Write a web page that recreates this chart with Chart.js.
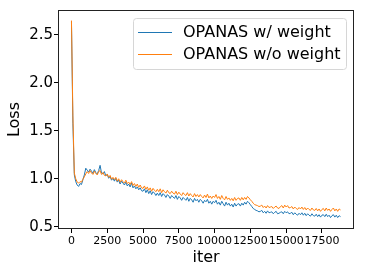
<!DOCTYPE html>
<html>
<head>
<meta charset="utf-8">
<script src="https://cdn.jsdelivr.net/npm/chart.js@4.4.1/dist/chart.umd.min.js"></script>
<style>
  html, body { margin: 0; padding: 0; background: #fff; }
  #wrap { width: 365px; height: 274px; }
</style>
</head>
<body>
<div id="wrap"><canvas id="lossChart" width="365" height="274"></canvas></div>
<script>
// training iterations (x values), one sample every 100 iters
const iters = [
  0, 100, 200, 300, 400, 500, 600, 700, 800, 900,
  1000, 1100, 1200, 1300, 1400, 1500, 1600, 1700, 1800, 1900,
  2000, 2100, 2200, 2300, 2400, 2500, 2600, 2700, 2800, 2900,
  3000, 3100, 3200, 3300, 3400, 3500, 3600, 3700, 3800, 3900,
  4000, 4100, 4200, 4300, 4400, 4500, 4600, 4700, 4800, 4900,
  5000, 5100, 5200, 5300, 5400, 5500, 5600, 5700, 5800, 5900,
  6000, 6100, 6200, 6300, 6400, 6500, 6600, 6700, 6800, 6900,
  7000, 7100, 7200, 7300, 7400, 7500, 7600, 7700, 7800, 7900,
  8000, 8100, 8200, 8300, 8400, 8500, 8600, 8700, 8800, 8900,
  9000, 9100, 9200, 9300, 9400, 9500, 9600, 9700, 9800, 9900,
  10000, 10100, 10200, 10300, 10400, 10500, 10600, 10700, 10800, 10900,
  11000, 11100, 11200, 11300, 11400, 11500, 11600, 11700, 11800, 11900,
  12000, 12100, 12200, 12300, 12400, 12500, 12600, 12700, 12800, 12900,
  13000, 13100, 13200, 13300, 13400, 13500, 13600, 13700, 13800, 13900,
  14000, 14100, 14200, 14300, 14400, 14500, 14600, 14700, 14800, 14900,
  15000, 15100, 15200, 15300, 15400, 15500, 15600, 15700, 15800, 15900,
  16000, 16100, 16200, 16300, 16400, 16500, 16600, 16700, 16800, 16900,
  17000, 17100, 17200, 17300, 17400, 17500, 17600, 17700, 17800, 17900,
  18000, 18100, 18200, 18300, 18400, 18500, 18600, 18700, 18800,
];

// OPANAS w/ weight
const lossWithWeight = [
  2.64, 1.58, 1.04, 0.97, 0.935, 0.92, 0.95, 0.94, 0.99, 1.04,
  1.11, 1.09, 1.07, 1.10, 1.08, 1.055, 1.095, 1.065, 1.05, 1.085,
  1.14, 1.06, 1.05, 1.075, 1.03, 1.045, 1.005, 1.025, 0.985, 1.005,
  0.975, 1.005, 0.965, 0.985, 0.945, 0.975, 0.955, 0.935, 0.965, 0.925,
  0.945, 0.915, 0.955, 0.905, 0.925, 0.895, 0.915, 0.885, 0.905, 0.875,
  0.87, 0.895, 0.855, 0.885, 0.845, 0.875, 0.835, 0.865, 0.85, 0.825,
  0.85, 0.825, 0.855, 0.815, 0.845, 0.83, 0.805, 0.835, 0.82, 0.795,
  0.825, 0.81, 0.795, 0.825, 0.785, 0.815, 0.80, 0.775, 0.805, 0.79,
  0.775, 0.805, 0.765, 0.795, 0.78, 0.755, 0.795, 0.77, 0.785, 0.755,
  0.785, 0.77, 0.745, 0.775, 0.76, 0.785, 0.745, 0.765, 0.735, 0.765,
  0.75, 0.775, 0.735, 0.755, 0.725, 0.765, 0.74, 0.715, 0.755, 0.725,
  0.745, 0.715, 0.735, 0.705, 0.745, 0.715, 0.735, 0.74, 0.715, 0.745,
  0.725, 0.755, 0.735, 0.765, 0.75, 0.73, 0.71, 0.69, 0.68, 0.67,
  0.665, 0.655, 0.66, 0.67, 0.645, 0.66, 0.64, 0.665, 0.645, 0.65,
  0.655, 0.635, 0.65, 0.66, 0.635, 0.64, 0.65, 0.655, 0.635, 0.66,
  0.645, 0.655, 0.635, 0.64, 0.65, 0.625, 0.645, 0.63, 0.62, 0.64,
  0.625, 0.645, 0.62, 0.64, 0.615, 0.635, 0.62, 0.61, 0.635, 0.615,
  0.61, 0.63, 0.605, 0.625, 0.60, 0.62, 0.625, 0.605, 0.63, 0.605,
  0.62, 0.595, 0.615, 0.625, 0.60, 0.62, 0.595, 0.615, 0.605,
];

// OPANAS w/o weight
const lossWithoutWeight = [
  2.65, 1.66, 1.06, 1.00, 0.965, 0.955, 0.97, 0.965, 0.995, 1.02,
  1.05, 1.075, 1.055, 1.085, 1.06, 1.045, 1.08, 1.055, 1.04, 1.075,
  1.085, 1.045, 1.065, 1.035, 1.03, 1.05, 1.015, 1.035, 0.995, 1.015,
  0.99, 1.015, 0.975, 1.00, 0.965, 0.99, 0.97, 0.955, 0.985, 0.95,
  0.965, 0.94, 0.97, 0.93, 0.95, 0.92, 0.945, 0.91, 0.935, 0.905,
  0.90, 0.925, 0.89, 0.915, 0.88, 0.905, 0.87, 0.90, 0.88, 0.865,
  0.89, 0.865, 0.895, 0.855, 0.885, 0.865, 0.85, 0.88, 0.855, 0.845,
  0.87, 0.85, 0.84, 0.87, 0.835, 0.86, 0.84, 0.825, 0.855, 0.835,
  0.825, 0.855, 0.82, 0.845, 0.825, 0.81, 0.845, 0.815, 0.835, 0.81,
  0.835, 0.815, 0.80, 0.83, 0.805, 0.84, 0.80, 0.82, 0.795, 0.82,
  0.805, 0.835, 0.795, 0.815, 0.785, 0.825, 0.795, 0.78, 0.815, 0.785,
  0.80, 0.775, 0.795, 0.77, 0.805, 0.775, 0.795, 0.80, 0.775, 0.805,
  0.78, 0.805, 0.785, 0.815, 0.80, 0.78, 0.765, 0.745, 0.73, 0.725,
  0.72, 0.71, 0.715, 0.725, 0.70, 0.715, 0.695, 0.72, 0.70, 0.705,
  0.71, 0.69, 0.705, 0.715, 0.695, 0.69, 0.71, 0.72, 0.695, 0.725,
  0.705, 0.72, 0.695, 0.70, 0.71, 0.685, 0.705, 0.69, 0.68, 0.70,
  0.685, 0.705, 0.68, 0.70, 0.675, 0.695, 0.68, 0.67, 0.695, 0.675,
  0.67, 0.69, 0.665, 0.685, 0.66, 0.68, 0.69, 0.665, 0.695, 0.67,
  0.685, 0.66, 0.68, 0.695, 0.665, 0.685, 0.66, 0.685, 0.675,
];

const SERIES_LABELS = ['OPANAS w/ weight', 'OPANAS w/o weight'];
const SERIES_COLORS = ['#1f77b4', '#ff7f0e'];
const X_TICKS = [0, 2500, 5000, 7500, 10000, 12500, 15000, 17500];
const Y_TICKS = [0.5, 1.0, 1.5, 2.0, 2.5];

const FONT = 'DejaVu Sans';

function toPoints(ys) {
  return ys.map((y, i) => ({ x: iters[i], y }));
}

// matplotlib-ish frame (all four spines) + legend box inside the axes
const frameAndLegend = {
  id: 'frameAndLegend',
  afterDraw(chart) {
    const { ctx, chartArea: a } = chart;
    ctx.save();
    ctx.strokeStyle = '#222';
    ctx.lineWidth = 1;
    ctx.strokeRect(Math.round(a.left) + 0.5, Math.round(a.top) + 0.5,
      Math.round(a.right - a.left) - 1, Math.round(a.bottom - a.top) - 1);

    // legend
    const bx = 133, by = 18, bw = 213, bh = 51, r = 3;
    ctx.beginPath();
    ctx.roundRect(bx + 0.5, by + 0.5, bw, bh, r);
    ctx.fillStyle = 'rgba(255,255,255,0.8)';
    ctx.fill();
    ctx.strokeStyle = '#d6d6d6';
    ctx.stroke();

    ctx.font = `16px "${FONT}"`;
    ctx.textBaseline = 'middle';
    ctx.fillStyle = '#000';
    chart.data.datasets.forEach((ds, i) => {
      const y = 32 + i * 22 + 0.5;
      ctx.beginPath();
      ctx.moveTo(138, y);
      ctx.lineTo(172, y);
      ctx.strokeStyle = ds.borderColor;
      ctx.lineWidth = 1.2;
      ctx.stroke();
      ctx.fillText(ds.label, 183, y);
    });
    ctx.restore();
  },
};

new Chart(document.getElementById('lossChart'), {
  type: 'line',
  data: {
    datasets: [
      { label: SERIES_LABELS[0], data: toPoints(lossWithWeight), borderColor: SERIES_COLORS[0], order: 2 },
      { label: SERIES_LABELS[1], data: toPoints(lossWithoutWeight), borderColor: SERIES_COLORS[1], order: 1 },
    ],
  },
  options: {
    responsive: false,
    animation: false,
    events: [],
    layout: { padding: { top: 10, right: 11, left: 0, bottom: 0 } },
    elements: {
      line: { borderWidth: 1, tension: 0 },
      point: { radius: 0 },
    },
    plugins: { legend: { display: false }, tooltip: { enabled: false } },
    scales: {
      x: {
        type: 'linear',
        min: -940,
        max: 19740,
        afterFit: (s) => { s.height = 45; },
        afterBuildTicks: (s) => { s.ticks = X_TICKS.map((v) => ({ value: v })); },
        border: { display: false },
        grid: { drawOnChartArea: false, drawTicks: true, tickLength: 4, color: '#000' },
        ticks: {
          autoSkip: false,
          maxRotation: 0,
          padding: 2,
          color: '#000',
          font: { family: FONT, size: 11 },
          callback: (v) => String(v),
        },
        title: { display: true, text: 'iter', color: '#000', font: { family: FONT, size: 16 }, padding: { top: 0, bottom: 7 } },
      },
      y: {
        min: 0.476,
        max: 2.76,
        afterFit: (s) => { s.width = 58; },
        afterBuildTicks: (s) => { s.ticks = Y_TICKS.map((v) => ({ value: v })); },
        border: { display: false },
        grid: { drawOnChartArea: false, drawTicks: true, tickLength: 4, color: '#000' },
        ticks: {
          padding: 1,
          color: '#000',
          font: { family: FONT, size: 15 },
          callback: (v) => v.toFixed(1),
        },
        title: { display: true, text: 'Loss', color: '#000', font: { family: FONT, size: 16 }, padding: { top: 5, bottom: 0 } },
      },
    },
  },
  plugins: [frameAndLegend],
});
</script>
</body>
</html>
